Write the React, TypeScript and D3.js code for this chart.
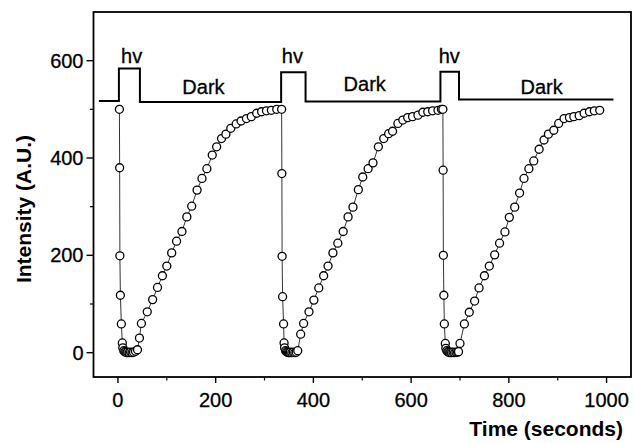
import * as d3 from 'd3';

// Intensity recovery after three light pulses
const cycle1Time = [3, 3.5, 4, 5, 7, 9, 10, 12, 14, 16, 18, 20, 23, 26, 29, 32, 36, 40, 44, 48, 60, 71, 81, 91, 100, 110, 120, 131, 141, 151, 162, 172, 182, 193, 202, 212, 221, 231, 242, 252, 263, 273, 284, 294, 304, 314, 325];
const cycle1Intensity = [500, 380, 199, 118, 59, 20, 10, 4, 2, 1, 0, 1, 0, 1, 0, 1, 3, 6, 30, 60, 84, 109, 134, 158, 178, 205, 229, 249, 279, 301, 334, 358, 378, 406, 423, 440, 449, 461, 470, 476, 481, 485, 492, 495, 497, 498, 500];

const cycle2Time = [335, 335.5, 336, 337, 339, 340, 341, 343, 345, 347, 349, 351, 353, 356, 359, 362, 365, 368, 374, 380, 391, 401, 411, 421, 430, 440, 450, 461, 471, 481, 492, 501, 512, 522, 533, 544, 554, 562, 573, 583, 593, 603, 614, 624, 634, 644, 655, 662];
const cycle2Intensity = [500, 368, 198, 115, 59, 20, 10, 4, 2, 1, 0, 0, 1, 0, 1, 0, 1, 4, 38, 60, 84, 108, 133, 158, 178, 205, 225, 249, 279, 299, 335, 361, 378, 390, 423, 440, 450, 455, 471, 478, 483, 485, 488, 494, 495, 497, 498, 500];

const cycle3Time = [665, 665.5, 666, 667, 668, 670, 671, 673, 675, 677, 679, 681, 683, 686, 689, 692, 695, 697, 700, 709, 719, 730, 739, 750, 760, 771, 781, 792, 801, 812, 822, 831, 841, 851, 862, 872, 881, 892, 902, 913, 924, 933, 944, 954, 965, 975, 986];
const cycle3Intensity = [500, 375, 200, 118, 59, 19, 9, 4, 2, 1, 0, 1, 0, 1, 0, 1, 1, 2, 19, 59, 83, 106, 133, 158, 178, 201, 225, 248, 278, 299, 328, 358, 378, 394, 418, 437, 449, 457, 471, 481, 483, 485, 487, 492, 495, 497, 498];

// light on/off trace drawn above the data
const lampTime = [-39, 2, 2, 45, 45, 334, 334, 384, 384, 660, 660, 698, 698, 1014];
const lampLevel = [517, 517, 584, 584, 515, 515, 576, 576, 516, 516, 577, 577, 520, 520];

const hvTime = [28, 357, 678];
const hvLevel = [595, 595, 595];
const darkTime = [175, 505, 867];
const darkLevel = [531, 538, 531];

const xTicks = [0, 200, 400, 600, 800, 1000];
const xMinorTicks = [100, 300, 500, 700, 900];
const yTicks = [0, 200, 400, 600];
const yMinorTicks = [100, 300, 500];

const W = 634;
const H = 443;
const FONT = "'Liberation Sans', Arial, sans-serif";

const App = () => {
  const x = d3.scaleLinear().domain([-50, 1050]).range([93.5, 631]);
  const y = d3.scaleLinear().domain([-50, 700]).range([377, 12]);

  const series = [
    ...cycle1Time.map((t, i) => [t, cycle1Intensity[i]]),
    ...cycle2Time.map((t, i) => [t, cycle2Intensity[i]]),
    ...cycle3Time.map((t, i) => [t, cycle3Intensity[i]]),
  ] as [number, number][];

  const line = d3.line<[number, number]>()
    .x(d => x(d[0]))
    .y(d => y(d[1]));

  const lamp = lampTime.map((t, i) => [t, lampLevel[i]] as [number, number]);

  const [x0, x1] = x.range();
  const [yb, yt] = y.range();

  return (
    <svg width={W} height={H} style={{ position: 'absolute', left: 0, top: 0, background: '#fff' }}>
      {/* frame */}
      <rect x={x0} y={yt} width={x1 - x0} height={yb - yt} fill="none" stroke="#000" strokeWidth={1.8} />

      {/* x ticks */}
      {xTicks.map(t => (
        <g key={'xt' + t}>
          <line x1={x(t)} x2={x(t)} y1={yb} y2={yb + 6} stroke="#000" strokeWidth={1.4} />
          <text x={x(t)} y={yb + 30} textAnchor="middle" fontFamily={FONT} fontSize={20} stroke="#000" strokeWidth={0.3}>{t}</text>
        </g>
      ))}
      {xMinorTicks.map(t => (
        <line key={'xm' + t} x1={x(t)} x2={x(t)} y1={yb} y2={yb + 3.5} stroke="#000" strokeWidth={1.2} />
      ))}

      {/* y ticks */}
      {yTicks.map(v => (
        <g key={'yt' + v}>
          <line x1={x0 - 7} x2={x0} y1={y(v)} y2={y(v)} stroke="#000" strokeWidth={1.4} />
          <text x={x0 - 10} y={y(v) + 7} textAnchor="end" fontFamily={FONT} fontSize={20} stroke="#000" strokeWidth={0.3}>{v}</text>
        </g>
      ))}
      {yMinorTicks.map(v => (
        <line key={'ym' + v} x1={x0 - 3.5} x2={x0} y1={y(v)} y2={y(v)} stroke="#000" strokeWidth={1.2} />
      ))}

      {/* axis titles */}
      <text
        transform={`translate(31,209) rotate(-90)`}
        textAnchor="middle"
        fontFamily={FONT}
        fontWeight="bold"
        fontSize={21}
      >Intensity (A.U.)</text>
      <text x={623} y={436} textAnchor="end" fontFamily={FONT} fontWeight="bold" fontSize={21}>Time (seconds)</text>

      {/* light trace */}
      <path d={line(lamp) ?? ''} fill="none" stroke="#000" strokeWidth={2} />
      {hvTime.map((t, i) => (
        <text key={'hv' + i} x={x(t)} y={y(hvLevel[i])} textAnchor="middle" fontFamily={FONT} fontSize={20} stroke="#000" strokeWidth={0.3}>hv</text>
      ))}
      {darkTime.map((t, i) => (
        <text key={'dk' + i} x={x(t)} y={y(darkLevel[i])} textAnchor="middle" fontFamily={FONT} fontSize={20} stroke="#000" strokeWidth={0.3}>Dark</text>
      ))}

      {/* data */}
      <path d={line(series) ?? ''} fill="none" stroke="#000" strokeWidth={0.8} />
      {series.map((d, i) => (
        <circle key={i} cx={x(d[0])} cy={y(d[1])} r={4} fill="#fff" stroke="#000" strokeWidth={1.3} />
      ))}
    </svg>
  );
};

export default App;
